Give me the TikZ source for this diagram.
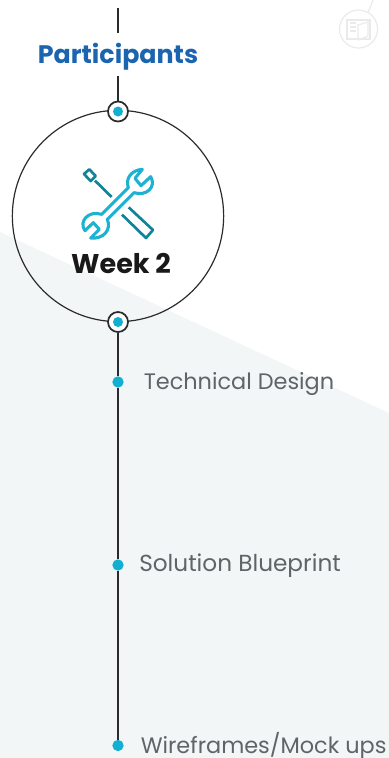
\documentclass[tikz,border=0pt]{standalone}
\usepackage{fontspec}
\setmainfont{Poppins}
\definecolor{tint}{HTML}{F2F6F6}
\definecolor{inkline}{HTML}{2B2B2D}
\definecolor{dotblue}{HTML}{12AFD0}
\definecolor{headblue}{HTML}{1A64B0}
\definecolor{graytext}{HTML}{5F6468}
\definecolor{teal}{HTML}{0F8398}
\definecolor{wrenchblue}{HTML}{1DB1D2}
\definecolor{faint}{HTML}{E9EAEA}
\tikzset{
  ring/.style={circle,draw=inkline,line width=1.3pt,fill=white,minimum size=15pt,inner sep=0pt},
  hub/.style={circle,fill=dotblue,minimum size=7.5pt,inner sep=0pt},
  stepdot/.style={circle,fill=dotblue,minimum size=8.5pt,inner sep=0pt},
  itemlabel/.style={anchor=west,inner sep=0pt,text=graytext,font=\fontsize{16.8}{20}\selectfont},
  trunk/.style={draw=inkline,line width=1.5pt}
}
\begin{document}
\begin{tikzpicture}[x=0.75pt,y=-0.75pt]
\useasboundingbox (0,0) rectangle (389,758);
\fill[tint] (0,232) -- (389,413) -- (389,758) -- (0,758) -- cycle;
% faint icon
\coordinate (faintend) at (373,0);
\node[circle,draw=faint,line width=0.9pt,minimum size=28.5pt,inner sep=0pt] (bookring) at (358.5,29) {};
\draw[faint,line width=0.9pt] (bookring.60) -- (faintend);
\begin{scope}[faint,line width=0.9pt]
\draw (347,20) rectangle (370,39);
\draw (358,40) -- (358,25) -- (368,22) -- (368,36) -- (358,40);
\draw (350,23) -- (356,23) (350,27) -- (356,27) (350,31) -- (356,31);
\end{scope}
% main structure
\coordinate (topend) at (118,8);
\coordinate (midend) at (118,76);
\node[circle,draw=inkline,line width=0.9pt,minimum size=158.5pt,inner sep=0pt] (week) at (118,216) {};
\node[font=\fontsize{19}{23}\selectfont\bfseries,text=headblue,inner sep=0pt] (part) at (118,56.5) {Participants};
\node[ring] (ringa) at (118,111.5) {};
\node[ring] (ringb) at (118,322) {};
\node[hub] (huba) at (118,111.5) {};
\node[hub] (hubb) at (118,322) {};
\node[stepdot] (d1) at (118,382) {};
\node[stepdot] (d2) at (118,565) {};
\node[stepdot] (d3) at (118,745.5) {};
\draw[trunk] (topend) -- (118,33);
\draw[trunk] (midend) -- (ringa.north);
\draw[trunk] (ringb.south) -- (d1) -- (d2) -- (d3);
\node[font=\fontsize{20.3}{24}\selectfont\bfseries,text=black!90,inner sep=0pt] (wk) at (121,263.5) {Week 2};
\node[itemlabel] (t1) at (143.5,384) {Technical Design};
\node[itemlabel,font=\fontsize{17.4}{20}\selectfont] (t2) at (139,565.5) {Solution Blueprint};
\node[itemlabel] (t3) at (140.5,745.5) {Wireframes/Mock ups};
% tools icon
\begin{scope}[shift={(60,150)},x=0.25pt,y=-0.25pt,line width=2pt,line join=round]
\draw[teal] (72,72) -- (88,58) -- (107,78) -- (92,93) -- cycle;
\draw[teal] (105,92) -- (155,141);
\draw[teal] (206,172) -- (279,240) -- (258,264) -- (186,194);
\draw[wrenchblue,line width=2.3pt]
 (205,113) .. controls (195,85) and (215,60) .. (247,58)
 -- (225,85) -- (243,107) -- (272,80)
 .. controls (290,110) and (260,140) .. (222,128)
 -- (142,208)
 .. controls (155,240) and (130,268) .. (92,264)
 -- (118,238) -- (100,218) -- (75,242)
 .. controls (55,215) and (85,180) .. (125,193)
 -- cycle;
\end{scope}
\end{tikzpicture}
\end{document}
